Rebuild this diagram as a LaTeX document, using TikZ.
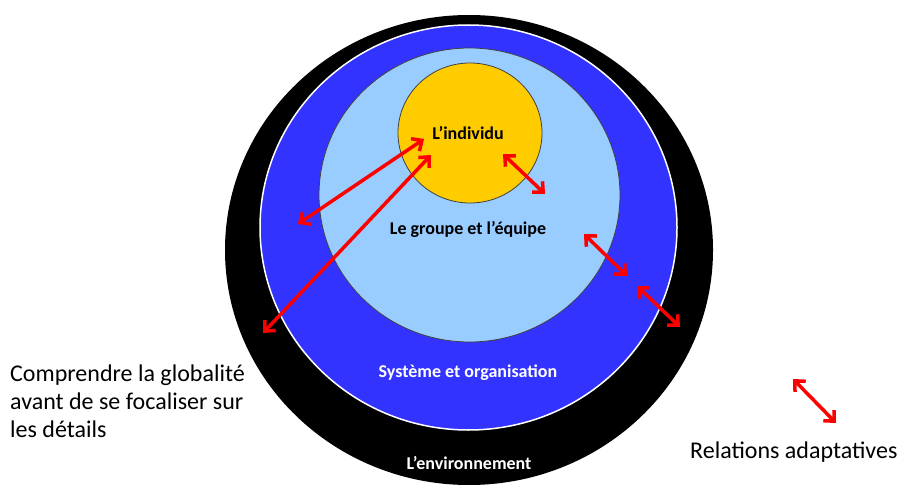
\documentclass[tikz,border=0pt]{standalone}
\usepackage{fontspec}
\setmainfont{Carlito}
\usetikzlibrary{arrows.meta}
\definecolor{envblack}{HTML}{000000}
\definecolor{orgblue}{HTML}{3333FF}
\definecolor{grplblue}{HTML}{99CCFF}
\definecolor{indyellow}{HTML}{FFCC00}
\definecolor{arrred}{HTML}{FF0000}
\tikzset{
  rel/.style={draw=arrred, line width=3.5pt, {Straight Barb[length=8pt,width=15pt,line width=3.5pt]}-{Straight Barb[length=8pt,width=15pt,line width=3.5pt]}},
  inlabel/.style={font=\fontsize{18}{20}\selectfont\bfseries, inner sep=0pt},
  sidelabel/.style={font=\fontsize{24}{28}\selectfont, inner sep=0pt, align=left}
}
\begin{document}
\begin{tikzpicture}[x=1pt,y=-1pt]
\useasboundingbox (0,0) rectangle (901,484);
\fill[white] (0,0) rectangle (901,484);
% circles
\fill[envblack] (469,250) ellipse [x radius=244, y radius=235];
\filldraw[fill=orgblue, draw=white, line width=1.5pt] (468.5,227.5) ellipse [x radius=208.5, y radius=202.5];
\filldraw[fill=grplblue, draw=black!75, line width=0.8pt] (469.5,195) ellipse [x radius=150.5, y radius=147];
\filldraw[fill=indyellow, draw=black!75, line width=0.8pt] (470,133) ellipse [x radius=72, y radius=70];
% labels
\node[inlabel, text=black] (ind) at (468,133) {L’individu};
\node[inlabel, text=black] (grp) at (468,229) {Le groupe et l’équipe};
\node[inlabel, text=white] (org) at (468,373) {Système et organisation};
\node[inlabel, text=white] (env) at (469,463) {L’environnement};
\node[sidelabel, anchor=north west] (glob) at (10,365) {Comprendre la globalité\\avant de se focaliser sur\\les détails};
\node[sidelabel, anchor=west] (legend) at (690,452) {Relations adaptatives};
% arrow endpoints
\coordinate (a1s) at (424,139); \coordinate (a1e) at (298,224);
\coordinate (a2s) at (431,155); \coordinate (a2e) at (263,333);
\coordinate (a3s) at (503,154); \coordinate (a3e) at (545,194);
\coordinate (a4s) at (584,234); \coordinate (a4e) at (627,276);
\coordinate (a5s) at (637,286); \coordinate (a5e) at (680,327);
\coordinate (a6s) at (793,379); \coordinate (a6e) at (836,423);
\draw[rel] (a1s) -- (a1e);
\draw[rel] (a2s) -- (a2e);
\draw[rel] (a3s) -- (a3e);
\draw[rel] (a4s) -- (a4e);
\draw[rel] (a5s) -- (a5e);
\draw[rel] (a6s) -- (a6e);
\end{tikzpicture}
\end{document}
